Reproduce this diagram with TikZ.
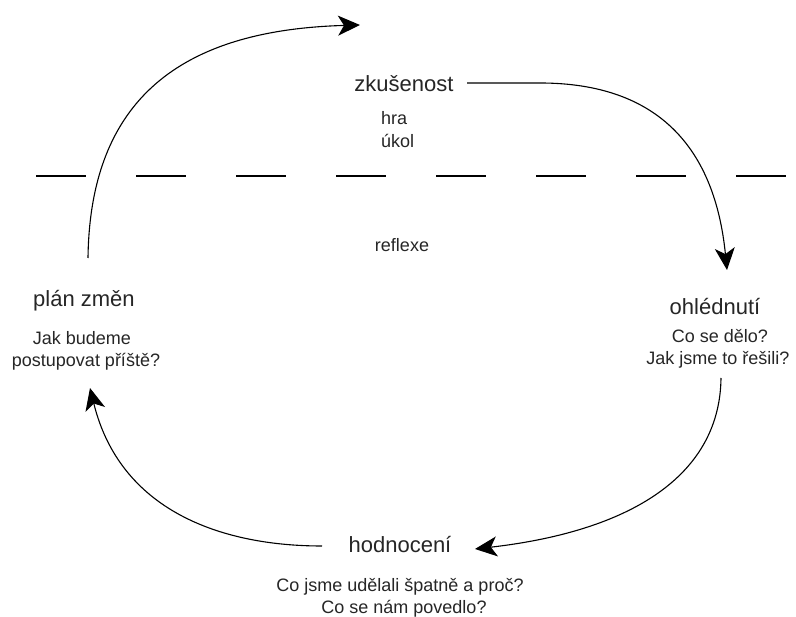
\documentclass[tikz,border=0pt]{standalone}
\usepackage{fontspec}
\setmainfont{Liberation Sans}
\usetikzlibrary{arrows.meta}
\begin{document}
\begin{tikzpicture}[x=1pt,y=-1pt,
  big/.style={font=\fontsize{22}{26}\selectfont, anchor=base, inner sep=0pt, text=black!85},
  small/.style={font=\fontsize{18}{22}\selectfont, anchor=base, inner sep=0pt, text=black!85},
  cyc/.style={line width=1.1pt, -{Stealth[length=22pt,width=20pt,inset=6pt]}},
  sep/.style={line width=1.4pt, dash pattern=on 50pt off 50pt}]
\useasboundingbox[fill=white] (0,0) rectangle (796,617);

% separator
\coordinate (sepL) at (36,176);
\coordinate (sepR) at (796,176);
\draw[sep] (sepL) -- (sepR);

% texts
\node[big] (zk) at (404,92) {zkušenost};
\node[small,anchor=base west] (hra) at (381,125) {hra};
\node[small,anchor=base west] (ukol) at (381,148) {úkol};
\node[small] (refl) at (402,252) {reflexe};

\node[big] (ohl) at (715,315) {ohlédnutí};
\node[small] (ohlA) at (720,343) {Co se dělo?};
\node[small] (ohlB) at (718,365) {Jak jsme to řešili?};

\node[big] (plan) at (84,307) {plán změn};
\node[small] (planA) at (82,345) {Jak budeme};
\node[small] (planB) at (86,367) {postupovat příště?};

\node[big] (hod) at (400,553) {hodnocení};
\node[small] (hodA) at (400,591) {Co jsme udělali špatně a proč?};
\node[small] (hodB) at (404,613) {Co se nám povedlo?};

% arrow end points
\coordinate (a1s) at (88,258);
\coordinate (a1e) at (360,25);
\coordinate (a2s) at (467,83);
\coordinate (a2m) at (540,83);
\coordinate (a2e) at (727,270);
\coordinate (a3s) at (721,378);
\coordinate (a3e) at (475,549);
\coordinate (a4s) at (322,546);
\coordinate (a4e) at (90,388);

\draw[cyc] (a1s) .. controls (90,100) and (180,30) .. (a1e);
\draw[cyc] (a2s) -- (a2m) .. controls (660,83) and (715,150) .. (a2e);
\draw[cyc] (a3s) .. controls (720,470) and (640,530) .. (a3e);
\draw[cyc] (a4s) .. controls (220,546) and (120,510) .. (a4e);
\end{tikzpicture}
\end{document}
